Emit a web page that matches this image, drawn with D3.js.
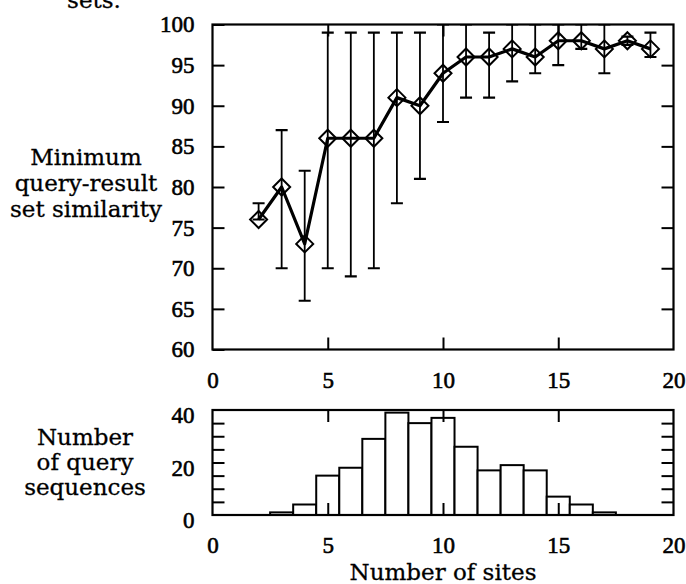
<!DOCTYPE html>
<html>
<head>
<meta charset="utf-8">
<script src="https://cdn.jsdelivr.net/npm/d3@7"></script>
<style>
  html, body { margin: 0; padding: 0; background: #fff; }
  svg { display: block; }
</style>
</head>
<body>
<script>
// ---- data ----
const sites      = [2, 3, 4, 5, 6, 7, 8, 9, 10, 11, 12, 13, 14, 15, 16, 17, 18, 19];
const similarity = [76, 80, 73, 86, 86, 86, 91, 90, 94, 96, 96, 97, 96, 98, 98, 97, 98, 97];
const simLow     = [76, 70, 66, 70, 69, 70, 78, 81, 88, 91, 91, 93, 94, 95, 97, 94, 97.5, 96];
const simHigh    = [78, 87, 82, 99, 99, 99, 99, 99, 100, 100, 99, 100, 100, 100, 100, 100, 98.5, 99];
const histSites  = [3, 4, 5, 6, 7, 8, 9, 10, 11, 12, 13, 14, 15, 16, 17];
const histCounts = [1, 4, 15, 18, 29, 39, 35, 37, 26, 17, 19, 17, 7, 4, 1];
const xTicks     = [0, 5, 10, 15, 20];
const yTicksTop  = [60, 65, 70, 75, 80, 85, 90, 95, 100];
const yTicksHist = [0, 20, 40];
const yMinorHist = [5, 10, 15, 20, 25, 30, 35];

const W = 686, H = 584;
const numFont = "'Liberation Serif', 'Times New Roman', serif";
const txtFont = "'DejaVu Serif', serif";

const svg = d3.select("body").append("svg").attr("width", W).attr("height", H);

const xS = d3.scaleLinear().domain([0, 20]).range([212.5, 673.5]);
const yTop = d3.scaleLinear().domain([60, 100]).range([349.5, 24.5]);
const yHist = d3.scaleLinear().domain([0, 40]).range([515, 410]);

function styleAxis(g, showText) {
  g.select(".domain").remove();
  g.selectAll(".tick line").attr("stroke", "#000").attr("stroke-width", 2);
  g.selectAll(".tick text").attr("fill", "#000").attr("stroke", "#000").attr("stroke-width", 0.6)
    .style("font-family", numFont).style("font-size", "23px");
  if (!showText) g.selectAll(".tick text").remove();
}

// ---------- top panel ----------
const topG = svg.append("g");
topG.append("clipPath").attr("id", "clipTop").append("rect")
  .attr("x", xS(0)).attr("y", yTop(100)).attr("width", xS(20) - xS(0)).attr("height", yTop(60) - yTop(100));

const plot = topG.append("g").attr("clip-path", "url(#clipTop)");
const pts = sites.map((s, i) => ({ x: s, y: similarity[i], lo: simLow[i], hi: simHigh[i] }));

// error bars
const capW = 6;
pts.forEach(d => {
  const cx = xS(d.x);
  plot.append("line").attr("x1", cx).attr("x2", cx).attr("y1", yTop(d.lo)).attr("y2", yTop(d.hi))
    .attr("stroke", "#000").attr("stroke-width", 1.8);
  [d.lo, d.hi].forEach(v => {
    plot.append("line").attr("x1", cx - capW).attr("x2", cx + capW).attr("y1", yTop(v)).attr("y2", yTop(v))
      .attr("stroke", "#000").attr("stroke-width", 2.2);
  });
});

// line
plot.append("path").datum(pts)
  .attr("d", d3.line().x(d => xS(d.x)).y(d => yTop(d.y)))
  .attr("fill", "none").attr("stroke", "#000").attr("stroke-width", 3.2).attr("stroke-linejoin", "round");

// diamonds
const dS = 8.5;
plot.selectAll(".dia").data(pts).enter().append("path")
  .attr("d", d => {
    const cx = xS(d.x), cy = yTop(d.y);
    return `M${cx},${cy - dS}L${cx + dS},${cy}L${cx},${cy + dS}L${cx - dS},${cy}Z`;
  })
  .attr("fill", "none").attr("stroke", "#000").attr("stroke-width", 2);

// axes top panel
topG.append("g").attr("transform", `translate(${xS(0)},0)`)
  .call(d3.axisLeft(yTop).tickValues(yTicksTop).tickSizeInner(-12).tickSizeOuter(0).tickPadding(18))
  .call(g => styleAxis(g, true));
topG.append("g").attr("transform", `translate(${xS(20)},0)`)
  .call(d3.axisRight(yTop).tickValues(yTicksTop.slice(1, -1)).tickSizeInner(-12).tickSizeOuter(0))
  .call(g => styleAxis(g, false));
topG.append("g").attr("transform", `translate(0,${yTop(60)})`)
  .call(d3.axisBottom(xS).tickValues(xTicks).tickSizeInner(-12).tickSizeOuter(0).tickPadding(22))
  .call(g => styleAxis(g, true))
  .call(g => g.selectAll(".tick").filter(d => d === 0 || d === 20).select("line").remove());
topG.append("g").attr("transform", `translate(0,${yTop(100)})`)
  .call(d3.axisTop(xS).tickValues([5, 10, 15]).tickSizeInner(-12).tickSizeOuter(0))
  .call(g => styleAxis(g, false));

topG.append("rect").attr("x", xS(0)).attr("y", yTop(100)).attr("width", xS(20) - xS(0)).attr("height", yTop(60) - yTop(100))
  .attr("fill", "none").attr("stroke", "#000").attr("stroke-width", 2.2);

// ---------- histogram ----------
const hist = svg.append("g");
hist.selectAll(".bar").data(histSites.map((s, i) => ({ s, c: histCounts[i] }))).enter().append("rect")
  .attr("x", d => xS(d.s - 0.5)).attr("width", d => xS(d.s + 0.5) - xS(d.s - 0.5))
  .attr("y", d => yHist(d.c)).attr("height", d => yHist(0) - yHist(d.c))
  .attr("fill", "#fff").attr("stroke", "#000").attr("stroke-width", 2);

hist.append("g").attr("transform", `translate(${xS(0)},0)`)
  .call(d3.axisLeft(yHist).tickValues(yTicksHist).tickSizeInner(0).tickSizeOuter(0).tickPadding(18))
  .call(g => styleAxis(g, true))
  .call(g => g.selectAll(".tick text").attr("dy", "0.55em"));
hist.append("g").attr("transform", `translate(${xS(0)},0)`)
  .call(d3.axisLeft(yHist).tickValues(yMinorHist).tickSizeInner(-12).tickSizeOuter(0))
  .call(g => styleAxis(g, false));
hist.append("g").attr("transform", `translate(${xS(20)},0)`)
  .call(d3.axisRight(yHist).tickValues(yMinorHist).tickSizeInner(-12).tickSizeOuter(0))
  .call(g => styleAxis(g, false));
hist.append("g").attr("transform", `translate(0,${yHist(0)})`)
  .call(d3.axisBottom(xS).tickValues(xTicks).tickSizeInner(-12).tickSizeOuter(0).tickPadding(22))
  .call(g => styleAxis(g, true))
  .call(g => g.selectAll(".tick").filter(d => d === 0 || d === 20).select("line").remove());
hist.append("g").attr("transform", `translate(0,${yHist(40)})`)
  .call(d3.axisTop(xS).tickValues([5, 10, 15]).tickSizeInner(-12).tickSizeOuter(0))
  .call(g => styleAxis(g, false));

hist.append("rect").attr("x", xS(0)).attr("y", yHist(40)).attr("width", xS(20) - xS(0)).attr("height", yHist(0) - yHist(40))
  .attr("fill", "none").attr("stroke", "#000").attr("stroke-width", 2.2);

// ---------- text labels ----------
function label(lines, cx, y0, lh) {
  const t = svg.append("text").attr("text-anchor", "middle")
    .style("font-family", txtFont).style("font-size", "23px")
    .attr("fill", "#000").attr("stroke", "#000").attr("stroke-width", 0.3);
  lines.forEach((l, i) => t.append("tspan").attr("x", cx).attr("y", y0 + i * lh).text(l));
}
label(["sets."], 94, 8, 26);
label(["Minimum", "query-result", "set similarity"], 86, 165, 26);
label(["Number", "of query", "sequences"], 85, 445, 25);
label(["Number of sites"], xS(10), 580, 26);
</script>
</body>
</html>
